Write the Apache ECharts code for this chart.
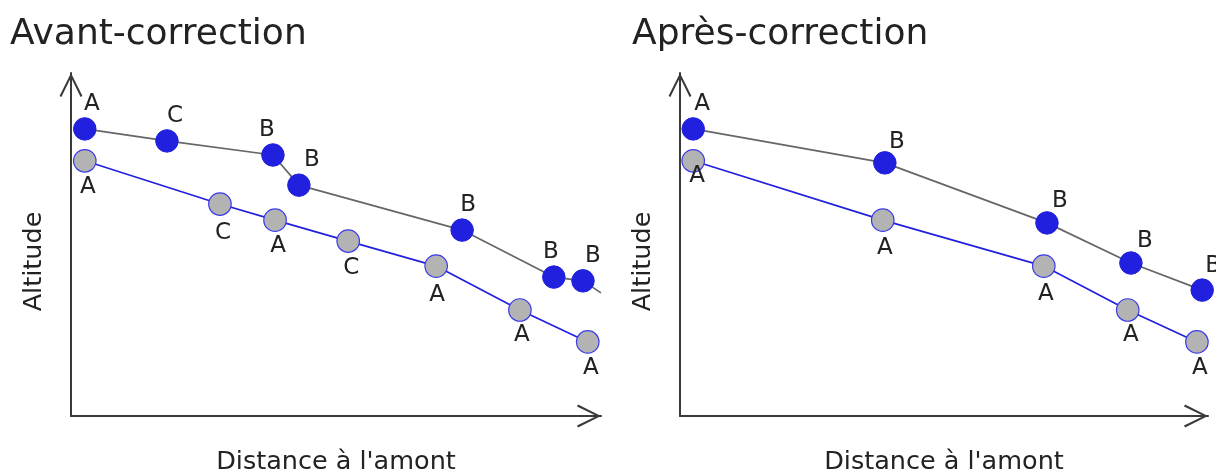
<!DOCTYPE html>
<html>
<head>
<meta charset="utf-8">
<script src="https://cdn.jsdelivr.net/npm/echarts@6/dist/echarts.min.js"></script>
<style>
  html, body { margin: 0; padding: 0; background: #fff; }
  #chart { width: 1216px; height: 472px; }
</style>
</head>
<body>
<div id="chart"></div>
<script>
// titles / axis names
const panelTitles = ['Avant-correction', 'Après-correction'];
const xName = "Distance à l'amont";
const yName = 'Altitude';

// avant-correction : points bleus (ligne grise) et points gris (ligne bleue)
const avantHautX = [2.6, 18.1, 38.1, 43.0, 73.8, 91.1, 96.6, 100];
const avantHautY = [83.7, 80.2, 76.1, 67.3, 54.2, 40.5, 39.4, 35.9];
const avantHautLbl = ['A', 'C', 'B', 'B', 'B', 'B', 'B', ''];
const avantBasX = [2.6, 28.1, 38.5, 52.3, 68.9, 84.7, 97.5];
const avantBasY = [74.4, 61.8, 57.1, 51.0, 43.7, 30.9, 21.6];
const avantBasLbl = ['A', 'C', 'A', 'C', 'A', 'A', 'A'];

// après-correction
const apresHautX = [2.5, 38.8, 69.5, 85.4, 98.9];
const apresHautY = [83.7, 73.8, 56.3, 44.6, 36.7];
const apresHautLbl = ['A', 'B', 'B', 'B', 'B'];
const apresBasX = [2.5, 38.4, 68.9, 84.8, 97.9];
const apresBasY = [74.4, 57.1, 43.7, 30.9, 21.6];
const apresBasLbl = ['A', 'A', 'A', 'A', 'A'];

const FONT = '"DejaVu Sans", Verdana, sans-serif';
const INK = '#222';
const BLUE = '#2020de';
const LBL = 23;
const NAME = 25.5;

// small nudges so the letters sit where they do in the drawing
const shiftAvantHaut = [[7, 1], [8, 1], [-6, 1], [13, 1], [6, 1], [-3, 1], [10, 1], [0, 0]];
const shiftAvantBas = [[3, 0], [3, 3], [3, 0], [3, 1], [1, 3], [2, -1], [3, 0]];
const shiftApresHaut = [[9, 1], [12, 5], [13, 4], [14, 4], [11, 2]];
const shiftApresBas = [[4, -11], [2, 2], [2, 2], [3, -1], [3, 0]];

function items(xs, ys, lbls, shifts) {
  return xs.map((x, i) => {
    const it = { value: [x, ys[i]], label: { formatter: lbls[i], offset: shifts[i] } };
    if (!lbls[i]) { it.symbol = 'none'; it.label.show = false; }
    return it;
  });
}

const chevron = 'path://M0 22 L11 0 L22 22 L20.2 23 L11 4.2 L1.8 23 Z';

function axisLine() {
  return {
    show: true,
    lineStyle: { color: '#3a3a3a', width: 2 },
    symbol: ['none', chevron],
    symbolSize: [26, 24],
    symbolOffset: [0, -12]
  };
}

function xAx(i) {
  return {
    type: 'value', gridIndex: i, min: 0, max: 100,
    axisLine: axisLine(), axisTick: { show: false }, axisLabel: { show: false },
    splitLine: { show: false },
    name: xName, nameLocation: 'middle', nameGap: 33,
    nameTextStyle: { fontFamily: FONT, fontSize: NAME, color: INK }
  };
}
function yAx(i) {
  return {
    type: 'value', gridIndex: i, min: 0, max: 100,
    axisLine: axisLine(), axisTick: { show: false }, axisLabel: { show: false },
    splitLine: { show: false },
    name: yName, nameLocation: 'middle', nameGap: 24,
    nameTextStyle: { fontFamily: FONT, fontSize: NAME, color: INK, padding: [0, 34, 0, 0] }
  };
}

function upper(i, data) {
  return {
    type: 'line', xAxisIndex: i, yAxisIndex: i, data: data, z: 4,
    symbol: 'circle', symbolSize: 22.5, clip: false,
    lineStyle: { color: '#666', width: 1.7 },
    itemStyle: { color: BLUE, borderColor: BLUE, borderWidth: 1 },
    label: { show: true, position: 'top', distance: 3, fontFamily: FONT, fontSize: LBL, color: INK },
    emphasis: { disabled: true }, animation: false
  };
}
function lower(i, data) {
  return {
    type: 'line', xAxisIndex: i, yAxisIndex: i, data: data, z: 3,
    symbol: 'circle', symbolSize: 22.5, clip: false,
    lineStyle: { color: BLUE, width: 1.7 },
    itemStyle: { color: '#b3b3b3', borderColor: '#3a3ae8', borderWidth: 1.2 },
    label: { show: true, position: 'bottom', distance: 3, fontFamily: FONT, fontSize: LBL, color: INK },
    emphasis: { disabled: true }, animation: false
  };
}

const chart = echarts.init(document.getElementById('chart'), null, { renderer: 'canvas' });
chart.setOption({
  backgroundColor: '#fff',
  animation: false,
  title: [
    { text: panelTitles[0], left: 10, top: 17, padding: 0, textStyle: { fontFamily: FONT, fontSize: 36, fontWeight: 'normal', color: INK } },
    { text: panelTitles[1], left: 632, top: 17, padding: 0, textStyle: { fontFamily: FONT, fontSize: 36, fontWeight: 'normal', color: INK } }
  ],
  grid: [
    { left: 71, top: 73, width: 530, height: 343, outerBoundsMode: 'none' },
    { left: 680, top: 73, width: 528, height: 343, outerBoundsMode: 'none' }
  ],
  xAxis: [xAx(0), xAx(1)],
  yAxis: [yAx(0), yAx(1)],
  series: [
    lower(0, items(avantBasX, avantBasY, avantBasLbl, shiftAvantBas)),
    upper(0, items(avantHautX, avantHautY, avantHautLbl, shiftAvantHaut)),
    lower(1, items(apresBasX, apresBasY, apresBasLbl, shiftApresBas)),
    upper(1, items(apresHautX, apresHautY, apresHautLbl, shiftApresHaut))
  ]
});
</script>
</body>
</html>
